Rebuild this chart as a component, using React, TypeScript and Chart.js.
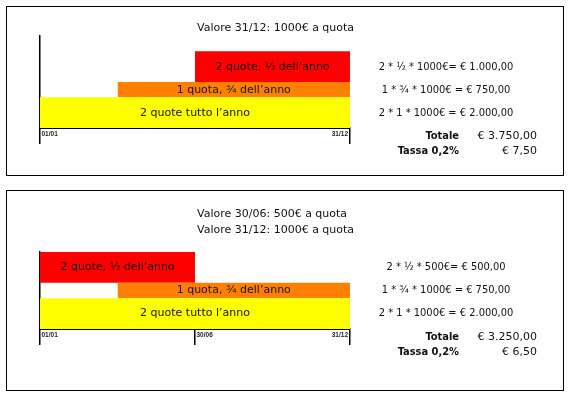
import React, { useEffect, useRef } from "react";
import { Chart, registerables } from "chart.js";

Chart.register(...registerables);

// ---------- data ----------
const SERIES_LABELS = ["2 quote tutto l’anno", "1 quota, ¾ dell’anno", "2 quote, ½ dell’anno"];
const SERIES_COLORS = ["#FFFF00", "#FF8000", "#FF0000"];
const QUOTE = [2, 1, 2]; // shares held (bar height)

const START_1 = [0, 0.25, 0.5]; // fraction of the year
const END_1 = [1, 1, 1];
const START_2 = [0, 0.25, 0];
const END_2 = [1, 1, 0.5];

const Y_MAX_1 = 6;
const Y_MAX_2 = 5;

const TICK_VALUES_1 = [0, 1];
const TICK_LABELS_1 = ["01/01", "31/12"];
const TICK_VALUES_2 = [0, 0.5, 1];
const TICK_LABELS_2 = ["01/01", "30/06", "31/12"];

const TITLE_1 = ["Valore 31/12: 1000€ a quota"];
const TITLE_2 = ["Valore 30/06: 500€ a quota", "Valore 31/12: 1000€ a quota"];

const EQUATIONS_1 = ["2 * 1 * 1000€ = € 2.000,00", "1 * ¾ * 1000€ = € 750,00", "2 * ½ * 1000€= € 1.000,00"];
const EQUATIONS_2 = ["2 * 1 * 1000€ = € 2.000,00", "1 * ¾ * 1000€ = € 750,00", "2 * ½ * 500€= € 500,00"];

const TOTAL_LABELS = ["Totale", "Tassa 0,2%"];
const TOTALS_1 = ["€ 3.750,00", "€ 7,50"];
const TOTALS_2 = ["€ 3.250,00", "€ 6,50"];

// ---------- styling ----------
const FONT = '"DejaVu Sans", Verdana, sans-serif';
const FONT_NARROW = '"DejaVu Sans Condensed", "DejaVu Sans", sans-serif';
const TEXT_COLOR = "#111";

type Cfg = {
  starts: number[];
  ends: number[];
  yMax: number;
  tickValues: number[];
  tickLabels: string[];
  title: string[];
  titleY: number;
  equations: string[];
  totals: string[];
  top: number;
  height: number;
  padTop: number;
  padBottom: number;
};

const CFG_1: Cfg = {
  starts: START_1, ends: END_1, yMax: Y_MAX_1,
  tickValues: TICK_VALUES_1, tickLabels: TICK_LABELS_1,
  title: TITLE_1, titleY: 28, equations: EQUATIONS_1, totals: TOTALS_1,
  top: 0, height: 180, padTop: 36, padBottom: 36,
};
const CFG_2: Cfg = {
  starts: START_2, ends: END_2, yMax: Y_MAX_2,
  tickValues: TICK_VALUES_2, tickLabels: TICK_LABELS_2,
  title: TITLE_2, titleY: 32, equations: EQUATIONS_2, totals: TOTALS_2,
  top: 182, height: 216, padTop: 70, padBottom: 53,
};

const bases = QUOTE.map((_, i) => QUOTE.slice(0, i).reduce((a, b) => a + b, 0));

function annotPlugin(cfg: Cfg) {
  return {
    id: "annot",
    afterDraw(chart: any) {
      const ctx = chart.ctx as CanvasRenderingContext2D;
      const xs = chart.scales.x;
      const ys = chart.scales.y;
      const area = chart.chartArea;
      ctx.save();
      ctx.fillStyle = TEXT_COLOR;
      ctx.textBaseline = "middle";
      // bar labels and equations
      cfg.starts.forEach((s, i) => {
        const x = (xs.getPixelForValue(s) + xs.getPixelForValue(cfg.ends[i])) / 2;
        const y = ys.getPixelForValue(bases[i] + QUOTE[i] / 2);
        ctx.textAlign = "center";
        ctx.font = `11px ${FONT}`;
        ctx.fillText(SERIES_LABELS[i], x, y);
        ctx.font = `11px ${FONT_NARROW}`;
        ctx.fillText(cfg.equations[i], 446, y);
      });
      // title
      ctx.font = `11px ${FONT}`;
      ctx.textAlign = "left";
      cfg.title.forEach((t, k) => {
        ctx.fillText(t, (area.left + area.right) / 2 + 2, cfg.titleY + k * 16);
      });
      // totals
      TOTAL_LABELS.forEach((lab, k) => {
        const y = area.bottom + 8.5 + k * 14.5;
        ctx.font = `bold 11px ${FONT_NARROW}`;
        ctx.textAlign = "right";
        ctx.fillText(lab, 459, y);
        ctx.font = `11px ${FONT}`;
        ctx.fillText(cfg.totals[k], 537, y);
      });
      // x tick labels
      ctx.font = `bold 6.5px "Liberation Sans", Arial, sans-serif`;
      ctx.fillStyle = "#222";
      ctx.textBaseline = "middle";
      const n = xs.ticks.length;
      xs.ticks.forEach((t: any, k: number) => {
        const px = xs.getPixelForValue(t.value);
        const last = k === n - 1;
        ctx.textAlign = last ? "right" : "left";
        ctx.fillText(cfg.tickLabels[k], px + (last ? -2 : 1.5), area.bottom + 6.5);
      });
      ctx.restore();
    },
  };
}

function Panel({ cfg }: { cfg: Cfg }) {
  const ref = useRef<HTMLCanvasElement | null>(null);
  useEffect(() => {
    if (!ref.current) return;
    const datasets = SERIES_LABELS.map((label, i) => ({
      label,
      data: [
        { x: cfg.starts[i], y: bases[i] + QUOTE[i] },
        { x: cfg.ends[i], y: bases[i] + QUOTE[i] },
      ],
      fill: { value: bases[i] },
      backgroundColor: SERIES_COLORS[i],
      borderColor: "rgba(0,0,0,0)",
      borderWidth: 0,
      pointRadius: 0,
      pointHitRadius: 0,
      tension: 0,
    }));
    const chart = new Chart(ref.current, {
      type: "line",
      data: { datasets },
      options: {
        responsive: false,
        animation: false,
        events: [],
        layout: { padding: { left: 40, right: 219, top: cfg.padTop, bottom: cfg.padBottom } },
        plugins: { legend: { display: false }, tooltip: { enabled: false }, title: { display: false } },
        scales: {
          x: {
            type: "linear",
            min: 0,
            max: 1,
            z: 1,
            afterBuildTicks: (s: any) => {
              s.ticks = cfg.tickValues.map((v) => ({ value: v }));
            },
            afterFit: (s: any) => {
              s.height = 16;
            },
            ticks: { display: false },
            grid: { display: true, drawOnChartArea: false, drawTicks: true, tickLength: 16, color: "#000", lineWidth: 1.5 },
            border: { display: true, color: "#000", width: 2 },
          },
          y: {
            type: "linear",
            min: 0,
            max: cfg.yMax,
            z: 1,
            afterFit: (s: any) => {
              s.width = 0;
            },
            ticks: { display: false },
            grid: { display: false },
            border: { display: true, color: "#000", width: 1.5 },
          },
        },
      } as any,
      plugins: [annotPlugin(cfg)],
    });
    return () => chart.destroy();
  }, [cfg]);
  return (
    <canvas
      ref={ref}
      width={569}
      height={cfg.height}
      style={{ position: "absolute", left: 0, top: cfg.top, width: 569, height: cfg.height }}
    />
  );
}

export default function App() {
  return (
    <div style={{ position: "absolute", left: 0, top: 0, width: 569, height: 398, background: "#fff", overflow: "hidden" }}>
      <div style={{ position: "absolute", left: 6, top: 6, width: 558, height: 170, border: "1px solid #000", boxSizing: "border-box" }} />
      <div style={{ position: "absolute", left: 6, top: 190, width: 558, height: 201, border: "1px solid #000", boxSizing: "border-box" }} />
      <Panel cfg={CFG_1} />
      <Panel cfg={CFG_2} />
    </div>
  );
}
